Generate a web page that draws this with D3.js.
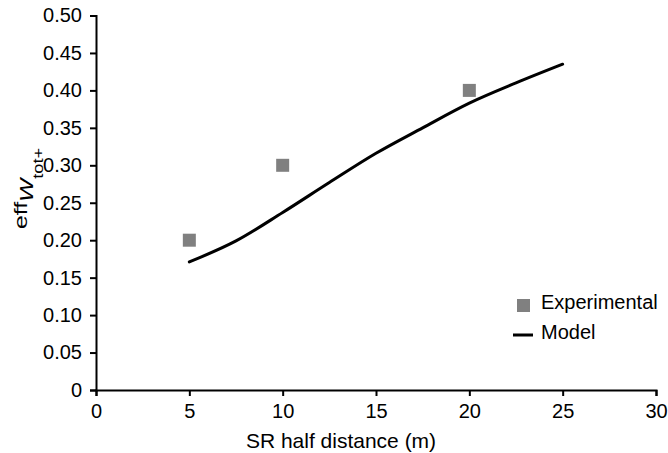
<!DOCTYPE html>
<html><head><meta charset="utf-8">
<script src="https://cdn.jsdelivr.net/npm/d3@7"></script>
<style>body{margin:0;background:#fff}svg{display:block}text{font-family:"Liberation Sans",Arial,Helvetica,sans-serif;fill:#000}</style>
</head><body><svg id="c" width="668" height="453"></svg>
<script>
const expX = [5, 10, 20];
const expY = [0.20, 0.30, 0.40];
const modelX = [5, 7.5, 10, 12.5, 15, 17.5, 20, 22.5, 25];
const modelY = [0.171, 0.199, 0.237, 0.277, 0.316, 0.350, 0.383, 0.410, 0.435];
const xTicks = [0, 5, 10, 15, 20, 25, 30];
const yTicks = [0, 0.05, 0.10, 0.15, 0.20, 0.25, 0.30, 0.35, 0.40, 0.45, 0.50];
const yTickLabels = ["0","0.05","0.10","0.15","0.20","0.25","0.30","0.35","0.40","0.45","0.50"];

const svg = d3.select("#c");
const x = d3.scaleLinear().domain([0, 30]).range([96, 656]);
const y = d3.scaleLinear().domain([0, 0.5]).range([390, 15.5]);

const xAxis = svg.append("g").attr("transform","translate(0,390)")
  .call(d3.axisBottom(x).tickValues(xTicks).tickSize(6).tickPadding(8).tickFormat(d3.format("d")));
const yAxis = svg.append("g").attr("transform","translate(96,0)")
  .call(d3.axisLeft(y).tickValues(yTicks).tickSize(6).tickPadding(8).tickFormat((d,i)=>yTickLabels[i]));
[xAxis, yAxis].forEach(g=>{
  g.select(".domain").attr("stroke","#000").attr("stroke-width",2);
  g.selectAll(".tick line").attr("stroke","#000").attr("stroke-width",2);
  g.selectAll(".tick text").style("font-size","20px").attr("fill","#000");
});

// model line
const line = d3.line().x((d,i)=>x(modelX[i])).y(d=>y(d)).curve(d3.curveMonotoneX);
svg.append("path").datum(modelY).attr("d", line)
  .attr("fill","none").attr("stroke","#000").attr("stroke-width",3).attr("stroke-linecap","round");

// experimental squares
svg.selectAll("rect.exp").data(expY).enter().append("rect").attr("class","exp")
  .attr("x",(d,i)=>x(expX[i])-6.5).attr("y",d=>y(d)-6.5)
  .attr("width",13).attr("height",13).attr("fill","#808080");

// axis titles
svg.append("text").attr("x",341).attr("y",448).attr("text-anchor","middle")
  .style("font-size","21px").text("SR half distance (m)");

const yl = svg.append("text").attr("transform","translate(33,229) rotate(-90) scale(1.3,1)").style("font-size","19px");
yl.append("tspan").attr("dy",-6).text("eff");
yl.append("tspan").attr("dy",6).style("font-style","italic").text("W");
yl.append("tspan").attr("dy",10).style("font-size","14px").text("tot+");

// legend
svg.append("rect").attr("x",517).attr("y",299).attr("width",13).attr("height",13).attr("fill","#808080");
svg.append("text").attr("x",541).attr("y",309).style("font-size","20px").text("Experimental");
svg.append("line").attr("x1",513).attr("x2",533).attr("y1",335).attr("y2",335).attr("stroke","#000").attr("stroke-width",3);
svg.append("text").attr("x",541).attr("y",339).style("font-size","20px").text("Model");
</script></body></html>
